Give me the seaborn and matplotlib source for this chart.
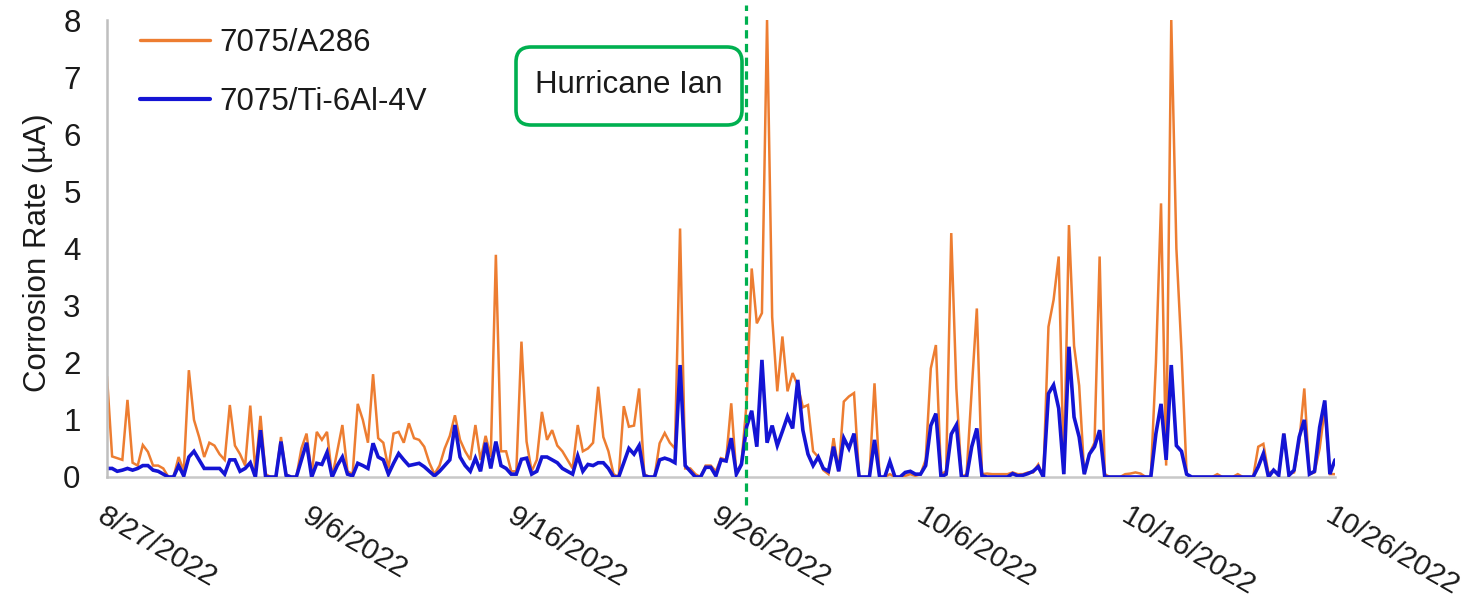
import numpy as np
import pandas as pd
import matplotlib
matplotlib.use("Agg")
import matplotlib.pyplot as plt
import seaborn as sns
from matplotlib.patches import FancyBboxPatch
from matplotlib.transforms import IdentityTransform

# ---------------- data (6-hour readings, 8/27/2022 00:00 -> 10/26/2022 00:00) -------------
series_names = ["7075/A286", "7075/Ti-6Al-4V"]
start_date = "2022-08-27"
n_points = 241

a286 = [
    1.76, 0.36, 0.33, 0.30,  1.35, 0.25, 0.20, 0.56,  0.44, 0.20, 0.20, 0.15,
    0.00, 0.00, 0.35, 0.10,  1.87, 1.00, 0.70, 0.35,  0.60, 0.55, 0.40, 0.30,
    1.26, 0.55, 0.40, 0.20,  1.25, 0.10, 1.07, 0.05,  0.00, 0.00, 0.70, 0.05,
    0.00, 0.00, 0.50, 0.76,  0.05, 0.79, 0.65, 0.79,  0.00, 0.45, 0.91, 0.10,
    0.05, 1.28, 1.00, 0.60,  1.80, 0.68, 0.60, 0.15,  0.76, 0.79, 0.60, 0.94,
    0.68, 0.65, 0.53, 0.25,  0.05, 0.20, 0.50, 0.72,  1.08, 0.65, 0.45, 0.30,
    0.91, 0.30, 0.72, 0.35,  3.89, 0.45, 0.45, 0.10,  0.10, 2.37, 0.62, 0.10,
    0.30, 1.14, 0.65, 0.82,  0.55, 0.45, 0.30, 0.15,  0.91, 0.45, 0.50, 0.60,
    1.58, 0.70, 0.45, 0.05,  0.00, 1.24, 0.88, 0.90,  1.55, 0.05, 0.00, 0.00,
    0.59, 0.77, 0.60, 0.50,  4.35, 0.15, 0.15, 0.05,  0.00, 0.20, 0.20, 0.10,
    0.33, 0.30, 1.29, 0.05,  0.25, 1.29, 3.65, 2.69,  2.87, 8.00, 2.80, 1.50,
    2.46, 1.50, 1.82, 1.60,  1.22, 1.26, 0.45, 0.35,  0.12, 0.05, 0.68, 0.10,
    1.32, 1.41, 1.47, 0.00,  0.00, 0.00, 1.64, 0.00,  0.00, 0.05, 0.00, 0.00,
    0.02, 0.05, 0.02, 0.05,  0.30, 1.90, 2.31, 0.05,  0.10, 4.27, 1.55, 0.00,
    0.05, 1.53, 2.95, 0.05,  0.06, 0.05, 0.05, 0.05,  0.05, 0.08, 0.05, 0.05,
    0.08, 0.08, 0.22, 0.00,  2.63, 3.10, 3.86, 0.05,  4.41, 2.30, 1.60, 0.05,
    0.41, 0.60, 3.86, 0.05,  0.00, 0.00, 0.00, 0.05,  0.06, 0.08, 0.06, 0.00,
    0.00, 2.00, 4.79, 0.20,  8.00, 4.00, 2.20, 0.05,  0.00, 0.00, 0.00, 0.00,
    0.00, 0.05, 0.00, 0.00,  0.00, 0.05, 0.00, 0.00,  0.00, 0.53, 0.58, 0.06,
    0.12, 0.05, 0.76, 0.05,  0.08, 0.60, 1.55, 0.05,  0.08, 0.50, 1.20, 0.05,
    0.05,
]

ti64 = [
    0.15, 0.15, 0.10, 0.12,  0.15, 0.12, 0.15, 0.20,  0.20, 0.12, 0.10, 0.05,
    0.00, 0.00, 0.20, 0.02,  0.35, 0.45, 0.30, 0.15,  0.15, 0.15, 0.15, 0.05,
    0.30, 0.30, 0.10, 0.15,  0.25, 0.00, 0.82, 0.00,  0.00, 0.00, 0.62, 0.03,
    0.00, 0.00, 0.30, 0.60,  0.00, 0.24, 0.22, 0.43,  0.00, 0.20, 0.35, 0.05,
    0.02, 0.24, 0.20, 0.15,  0.59, 0.35, 0.30, 0.05,  0.24, 0.41, 0.30, 0.20,
    0.22, 0.24, 0.18, 0.10,  0.02, 0.10, 0.20, 0.30,  0.91, 0.35, 0.20, 0.10,
    0.33, 0.10, 0.60, 0.15,  0.62, 0.20, 0.15, 0.05,  0.05, 0.31, 0.33, 0.05,
    0.10, 0.35, 0.35, 0.30,  0.25, 0.15, 0.10, 0.05,  0.37, 0.10, 0.22, 0.20,
    0.25, 0.25, 0.15, 0.00,  0.00, 0.25, 0.50, 0.40,  0.55, 0.02, 0.00, 0.00,
    0.30, 0.33, 0.30, 0.25,  1.96, 0.20, 0.10, 0.00,  0.00, 0.17, 0.17, 0.02,
    0.30, 0.28, 0.68, 0.05,  0.22, 0.88, 1.16, 0.53,  2.05, 0.60, 0.90, 0.55,
    0.80, 1.06, 0.85, 1.70,  0.82, 0.40, 0.20, 0.35,  0.15, 0.10, 0.53, 0.10,
    0.68, 0.50, 0.76, 0.00,  0.00, 0.00, 0.65, 0.00,  0.00, 0.27, 0.00, 0.00,
    0.08, 0.10, 0.05, 0.05,  0.20, 0.90, 1.11, 0.00,  0.05, 0.75, 0.91, 0.00,
    0.00, 0.53, 0.85, 0.02,  0.00, 0.00, 0.00, 0.00,  0.00, 0.06, 0.02, 0.03,
    0.06, 0.10, 0.18, 0.00,  1.46, 1.61, 1.20, 0.05,  2.28, 1.05, 0.70, 0.05,
    0.40, 0.53, 0.82, 0.00,  0.00, 0.00, 0.00, 0.00,  0.00, 0.00, 0.00, 0.00,
    0.00, 0.76, 1.28, 0.30,  1.96, 0.55, 0.45, 0.05,  0.00, 0.00, 0.00, 0.00,
    0.00, 0.00, 0.00, 0.00,  0.00, 0.00, 0.00, 0.00,  0.00, 0.18, 0.41, 0.00,
    0.12, 0.03, 0.76, 0.03,  0.12, 0.70, 1.00, 0.05,  0.10, 0.87, 1.34, 0.05,
    0.30,
]

tick_dates = ["2022-08-27", "2022-09-06", "2022-09-16", "2022-09-26",
              "2022-10-06", "2022-10-16", "2022-10-26"]
tick_labels = ["8/27/2022", "9/6/2022", "9/16/2022", "9/26/2022",
               "10/6/2022", "10/16/2022", "10/26/2022"]
y_ticks = [0, 1, 2, 3, 4, 5, 6, 7, 8]
hurricane_time = "2022-09-27 05:00"
hurricane_label = "Hurricane Ian"

# ---------------- frame ----------------
times = pd.date_range(start_date, periods=n_points, freq="6h")
df = pd.concat([
    pd.DataFrame({"time": times, "rate": a286, "series": series_names[0]}),
    pd.DataFrame({"time": times, "rate": ti64, "series": series_names[1]}),
])

sns.set_theme(style="white")
plt.rcParams["font.family"] = ["Liberation Sans", "DejaVu Sans"]
txt_color = "#1a1a1a"
FS = 22.5

fig = plt.figure(figsize=(14.76, 6.04), dpi=100)
ax = fig.add_axes([107 / 1476, 1 - 477 / 604, (1335 - 107) / 1476, (477 - 20) / 604])

colors = {"7075/A286": "#ED7D31", "7075/Ti-6Al-4V": "#1414D4"}
widths = {"7075/A286": 1.8, "7075/Ti-6Al-4V": 2.6}
for name in series_names:
    sns.lineplot(data=df[df["series"] == name], x="time", y="rate", ax=ax,
                 color=colors[name], lw=widths[name], label=name,
                 estimator=None, solid_joinstyle="miter")

ax.set_xlim(pd.Timestamp(tick_dates[0]), pd.Timestamp(tick_dates[-1]))
ax.set_ylim(0, 8)
ax.set_yticks(y_ticks)
ax.set_yticklabels([str(v) for v in y_ticks], fontsize=FS, color=txt_color)
ax.set_xticks([pd.Timestamp(d) for d in tick_dates])
ax.set_xticklabels(tick_labels, fontsize=21.5, color=txt_color, rotation=-30,
                   ha="left", va="top", rotation_mode="anchor")
ax.tick_params(axis="y", length=0, pad=19)
ax.tick_params(axis="x", length=0, pad=18)
ax.set_xlabel("")
ax.set_ylabel("Corrosion Rate (µA)", fontsize=FS, color=txt_color)
ax.yaxis.set_label_coords(-0.044, 0.49)

for s in ["top", "right"]:
    ax.spines[s].set_visible(False)
ax.spines["left"].set_color("#BFBFBF")
ax.spines["left"].set_linewidth(1.8)
ax.spines["bottom"].set_color("#C8C8C8")
ax.spines["bottom"].set_linewidth(1.8)
ax.spines["bottom"].set_zorder(0)
ax.grid(False)

# hurricane marker
ax.axvline(pd.Timestamp(hurricane_time), ymin=-0.062, ymax=1.033, clip_on=False,
           color="#00B050", lw=2.3, dashes=(2.6, 1.7), zorder=5)

box = FancyBboxPatch((516, 604 - 125), 226, 78, boxstyle="round,pad=0,rounding_size=15",
                     transform=IdentityTransform(), facecolor="white",
                     edgecolor="#00B050", lw=2.6, zorder=6)
fig.patches.append(box)
fig.text(629 / 1476, 1 - 85 / 604, hurricane_label, fontsize=FS, color=txt_color,
         ha="center", va="center", zorder=7)

leg = ax.legend(loc="upper left", bbox_to_anchor=(0.027, 0.982), frameon=False,
                fontsize=FS, handlelength=2.25, handletextpad=0.3,
                labelspacing=0.93, borderpad=0, borderaxespad=0)
for t in leg.get_texts():
    t.set_color(txt_color)
for h, name in zip(leg.get_lines(), series_names):
    h.set_linewidth(2.4 if name == series_names[0] else 3.0)

fig.savefig("out.png", dpi=100)
